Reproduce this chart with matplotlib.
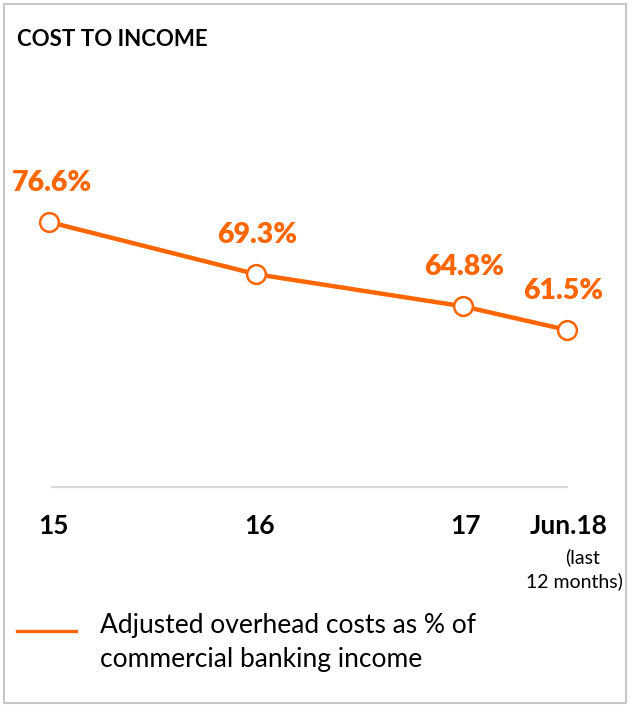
import matplotlib.pyplot as plt
from matplotlib.patches import Rectangle

# Data
periods = ["15", "16", "17", "Jun.18"]
period_x = [0, 1, 2, 2.5]
cost_to_income = [76.6, 69.3, 64.8, 61.5]
labels = ["76.6%", "69.3%", "64.8%", "61.5%"]

orange = "#FF6600"
plt.rcParams['font.family'] = ['Lato', 'DejaVu Sans']

W, H = 629, 706
fig = plt.figure(figsize=(W / 100, H / 100), dpi=100)
ax = fig.add_axes([0, 0, 1, 1])

# map data to pixels: x=0 -> 49px, x=2.5 -> 567px ; 76.6 -> 222px, 7.15 px per %
pxu = (567 - 49) / 2.5
ax.set_xlim(-49 / pxu, 2.5 + (W - 567) / pxu)
pyu = 7.15
ax.set_ylim(76.6 - (H - 222) / pyu, 76.6 + 222 / pyu)
ax.axis("off")

# baseline
base = 76.6 - (487 - 222) / pyu
ax.plot([period_x[0] + 3 / pxu, period_x[-1]], [base, base], color="#D9D9D9", lw=1.6, zorder=1)

ax.plot(period_x, cost_to_income, color=orange, lw=3.2, marker="o", ms=13.5,
        mfc="white", mec=orange, mew=1.8, zorder=3)

# small horizontal nudges of the value labels, as in the reference
nudge = [2.5, 1, 0.5, -3]
for x, y, t, dx in zip(period_x, cost_to_income, labels, nudge):
    ax.annotate(t, (x, y), xytext=(dx, 28), textcoords="offset points",
                ha="center", va="center", fontsize=20.5, fontweight="heavy", color=orange)

def fx(px):
    return px / W

def fy(py):
    return 1 - py / H

fig.text(fx(17), fy(40), "COST TO INCOME", fontsize=16, fontweight="bold", ha="left", va="center")

tick_px = [54, 260, 465, 569]
for px, p in zip(tick_px, periods):
    fig.text(fx(px), fy(526), p, fontsize=19, fontweight="bold", ha="center", va="center")
fig.text(fx(583), fy(557), "(last", fontsize=14, ha="center", va="center")
fig.text(fx(574), fy(581), "12 months)", fontsize=14, ha="center", va="center")

# legend
fig.add_artist(plt.Line2D([fx(17), fx(76)], [fy(631), fy(631)], color=orange, lw=2.4))
fig.text(fx(100), fy(625), "Adjusted overhead costs as % of", fontsize=19, ha="left", va="center")
fig.text(fx(100), fy(659), "commercial banking income", fontsize=19, ha="left", va="center")

# frame
fig.add_artist(Rectangle((fx(4), fy(703)), fx(622), 1 - fy(699) - 0, transform=fig.transFigure,
                         fill=False, edgecolor="#C8C8C8", lw=1.5))

fig.savefig("out.png", dpi=100)
